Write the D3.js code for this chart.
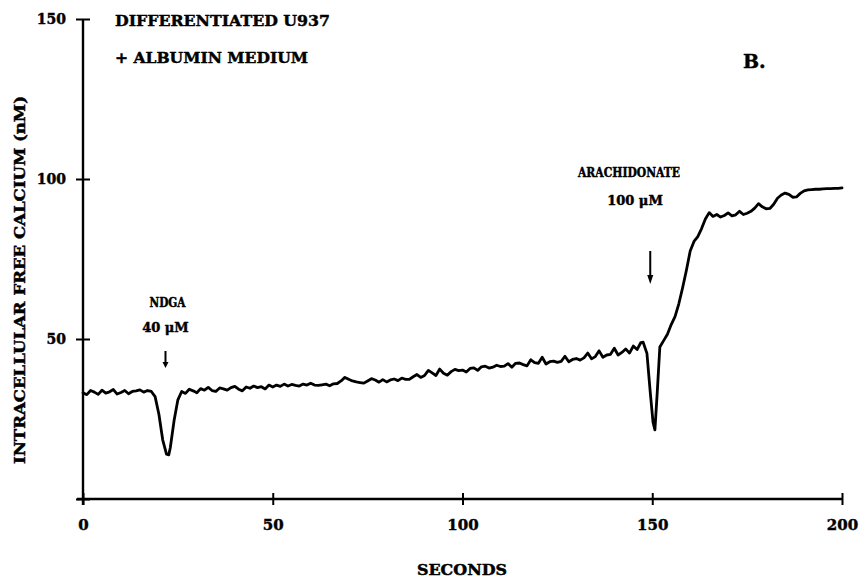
<!DOCTYPE html>
<html>
<head>
<meta charset="utf-8">
<script src="https://cdn.jsdelivr.net/npm/d3@7"></script>
<style>
  html, body { margin: 0; padding: 0; background: #fff; }
  svg { display: block; }
  text { font-family: "DejaVu Serif", "Liberation Serif", serif; font-weight: bold; fill: #000; stroke: #000; stroke-width: 0.45px; }
</style>
</head>
<body>
<svg id="chart" width="865" height="586"></svg>
<script>
// Fluorescence trace: intracellular free calcium (nM) against time (s)
const seconds = [
  0, 1, 2, 3, 4, 5, 6, 7, 8, 9, 10, 11, 12, 13, 14, 15, 16, 17, 18,
  19, 20, 21, 22, 22.6, 23, 24, 25,
  26, 27, 28, 29, 30, 31, 32, 33, 34, 35, 36, 37, 38, 39, 40, 41, 42, 43, 44, 45, 46, 47, 48, 49, 50,
  51, 52, 53, 54, 55, 56, 57, 58, 59, 60, 61, 62, 63, 64, 65, 66, 67, 68, 69, 70, 71, 72, 73, 74, 75,
  76, 77, 78, 79, 80, 81, 82, 83, 84, 85, 86, 87, 88, 89, 90, 91, 92, 93, 94, 95, 96, 97, 98, 99, 100,
  101, 102, 103, 104, 105, 106, 107, 108, 109, 110, 111, 112, 113, 114, 115, 116, 117, 118, 119, 120, 121, 122, 123, 124, 125,
  126, 127, 128, 129, 130, 131, 132, 133, 134, 135, 136, 137, 138, 139, 140, 141, 142, 143, 144, 145, 146, 147,
  147.6, 148.6, 149.5, 150.2, 150.7, 151.3, 152, 153, 154, 155, 156, 157, 158, 159, 160, 161, 162, 163, 164, 165,
  166, 167, 168, 169, 170, 171, 172, 173, 174, 175, 176, 177, 178, 179, 180, 181, 182, 183, 184, 185,
  186, 187, 188, 189, 190, 191, 192, 193, 194, 195, 196, 197, 198, 199, 200
];
const calcium = [
  33.2, 32.6, 33.9, 33.4, 32.7, 34.0, 33.1, 33.5, 34.2, 32.8, 33.3, 33.9, 32.9, 33.6, 33.8, 34.1, 33.4, 33.9, 33.6,
  32.0, 26.5, 18.5, 14.0, 13.8, 16.0, 24.5, 31.0,
  33.6, 33.0, 34.3, 33.8, 33.2, 34.5, 34.0, 34.9, 33.9, 33.6, 34.7, 34.4, 34.0, 34.8, 35.2, 34.3, 33.8, 35.0, 34.6, 35.3, 34.8, 35.1, 34.4, 35.6, 35.0,
  35.6, 35.2, 35.9, 35.3, 35.8, 35.5, 35.3, 35.9, 35.6, 36.2, 35.6, 35.5, 35.7, 35.9, 35.4, 36.0, 36.1, 36.9, 38.0, 37.4, 36.9, 36.6, 36.4, 36.2, 36.9,
  37.6, 37.2, 36.5, 37.3, 36.6, 37.2, 37.5, 37.0, 37.8, 37.4, 37.4, 38.2, 38.9, 38.0, 38.6, 40.2, 39.4, 38.6, 40.6, 39.3, 38.7, 39.8, 40.5, 40.1, 40.3,
  39.7, 40.8, 41.0, 40.2, 41.3, 41.5, 40.9, 41.2, 41.8, 41.4, 41.5, 42.3, 41.2, 42.4, 42.5, 42.0, 41.6, 43.5, 42.6, 42.4, 44.3, 42.2, 42.9, 43.1, 42.7,
  43.0, 44.6, 42.9, 43.6, 43.9, 43.4, 44.1, 45.6, 43.8, 44.5, 46.3, 44.3, 45.0, 45.2, 47.1, 45.0, 45.8, 46.9, 45.6, 47.8, 46.7, 48.9,
  49.0, 45.5, 33.0, 24.0, 21.6, 33.0, 47.5, 49.5, 51.5, 54.5, 57.0, 61.0, 66.0, 71.5, 77.5, 80.5, 82.0, 84.5, 87.5, 89.5,
  88.3, 88.9, 88.1, 88.6, 89.4, 88.5, 88.8, 89.9, 88.9, 89.3, 89.9, 90.9, 92.3, 91.3, 90.7, 90.8, 92.1, 94.0, 95.0, 95.6,
  95.2, 94.3, 94.4, 95.5, 96.3, 96.6, 96.7, 96.8, 96.8, 96.9, 97.0, 97.0, 97.1, 97.1, 97.2
];
const xTicks = [0, 50, 100, 150, 200];
const yTicks = [0, 50, 100, 150];
const yTickLabels = ["", "50", "100", "150"];

// Additions marked on the trace
const additions = [
  { time: 22, lines: ["NDGA", "40 \u03bcM"] },
  { time: 150, lines: ["ARACHIDONATE", "100 \u03bcM"] }
];

const svg = d3.select("#chart");
const margin = { left: 83, right: 23, top: 19, bottom: 87 };
const W = 865, H = 586;

const x = d3.scaleLinear().domain([0, 200]).range([margin.left, W - margin.right]);
const y = d3.scaleLinear().domain([0, 150]).range([H - margin.bottom, margin.top]);

// X axis: ticks cross the line
const xAxis = d3.axisBottom(x).tickValues(xTicks).tickSize(0).tickFormat(d3.format("d"));
const gx = svg.append("g").attr("transform", `translate(0,${y(0)})`).call(xAxis);
gx.select(".domain").remove();
gx.selectAll("text").attr("dy", null).attr("y", 31).style("font-size", "15px");
gx.append("line")
  .attr("x1", x(0) - 6).attr("x2", x(200)).attr("y1", 0).attr("y2", 0)
  .attr("stroke", "#000").attr("stroke-width", 2.4);
gx.selectAll(".tick").append("line")
  .attr("y1", -6).attr("y2", 6).attr("stroke", "#000").attr("stroke-width", 2);

// Y axis
const yAxis = d3.axisLeft(y).tickValues(yTicks).tickSize(0).tickFormat((d, i) => yTickLabels[i]);
const gy = svg.append("g").attr("transform", `translate(${x(0)},0)`).call(yAxis);
gy.select(".domain").remove();
gy.selectAll("text").attr("x", -17).attr("dy", "0.35em").style("font-size", "14px");
gy.append("line")
  .attr("x1", 0).attr("x2", 0).attr("y1", y(150)).attr("y2", y(0) + 6)
  .attr("stroke", "#000").attr("stroke-width", 2.4);
gy.selectAll(".tick").append("line")
  .attr("x1", -7).attr("x2", 7).attr("stroke", "#000").attr("stroke-width", 2);

// Trace
const points = seconds.map((t, i) => [t, calcium[i]]);
svg.append("path")
  .datum(points)
  .attr("fill", "none")
  .attr("stroke", "#000")
  .attr("stroke-width", 2.8)
  .attr("stroke-linejoin", "round")
  .attr("stroke-linecap", "round")
  .attr("d", d3.line().x(d => x(d[0])).y(d => y(d[1])));

// Addition labels and arrows
const ndga = svg.append("g");
ndga.append("text").attr("x", x(additions[0].time) + 1).attr("y", 307)
  .attr("text-anchor", "middle").style("font-size", "12px")
  .attr("textLength", 36).attr("lengthAdjust", "spacingAndGlyphs").text(additions[0].lines[0]);
ndga.append("text").attr("x", x(additions[0].time) - 1).attr("y", 332)
  .attr("text-anchor", "middle").style("font-size", "13px").text(additions[0].lines[1]);

const ara = svg.append("g");
ara.append("text").attr("x", 629).attr("y", 177)
  .attr("text-anchor", "middle").style("font-size", "12px")
  .attr("textLength", 102).attr("lengthAdjust", "spacingAndGlyphs").text(additions[1].lines[0]);
ara.append("text").attr("x", 635).attr("y", 205)
  .attr("text-anchor", "middle").style("font-size", "13px").text(additions[1].lines[1]);

function arrow(g, cx, y1, y2, head) {
  g.append("line").attr("x1", cx).attr("x2", cx).attr("y1", y1).attr("y2", y2 - head)
    .attr("stroke", "#000").attr("stroke-width", 2);
  g.append("path")
    .attr("d", `M${cx - 3},${y2 - head - 1} L${cx + 3},${y2 - head - 1} L${cx},${y2} Z`)
    .attr("fill", "#000");
}
arrow(ndga, x(additions[0].time) - 1, 351, 368, 5);
arrow(ara, x(additions[1].time) - 2, 251, 284, 8);

// Titles
svg.append("text").attr("x", 115).attr("y", 26).style("font-size", "15px")
  .attr("textLength", 215).attr("lengthAdjust", "spacingAndGlyphs").text("DIFFERENTIATED U937");
svg.append("text").attr("x", 115).attr("y", 63).style("font-size", "15px")
  .attr("textLength", 193).attr("lengthAdjust", "spacingAndGlyphs").text("+ ALBUMIN MEDIUM");
svg.append("text").attr("x", 743).attr("y", 68).style("font-size", "19px").text("B.");

// Axis titles
svg.append("text").attr("x", 462).attr("y", 575).attr("text-anchor", "middle")
  .style("font-size", "14px").attr("textLength", 90).attr("lengthAdjust", "spacingAndGlyphs").text("SECONDS");
svg.append("text")
  .attr("transform", "translate(25,280) rotate(-90)")
  .attr("text-anchor", "middle").style("font-size", "14px")
  .attr("textLength", 368).attr("lengthAdjust", "spacingAndGlyphs")
  .text("INTRACELLULAR FREE CALCIUM (nM)");
</script>
</body>
</html>
